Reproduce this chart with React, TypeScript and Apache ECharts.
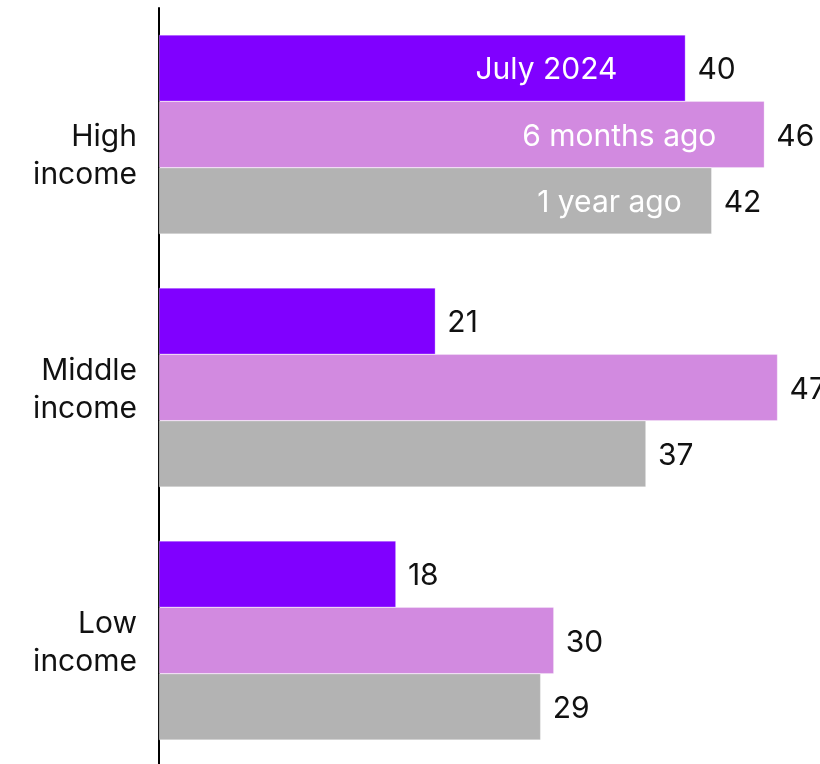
import React, { useEffect, useRef } from "react";
import * as echarts from "echarts";

const categories = ["High\nincome", "Middle\nincome", "Low\nincome"];
const seriesNames = ["July 2024", "6 months ago", "1 year ago"];
const july2024 = [40, 21, 18];
const sixMonthsAgo = [46, 47, 30];
const oneYearAgo = [42, 37, 29];
const colors = ["#8000ff", "#d28ae0", "#b3b3b3"];
const nameLabelDistance = [68, 48, 30];

const FONT = "Inter, 'Noto Sans', sans-serif";
const FS = 30;

export default function App() {
  const ref = useRef<HTMLDivElement>(null);
  useEffect(() => {
    if (!ref.current) return;
    const chart = echarts.init(ref.current, undefined, { renderer: "svg" });
    const values = [july2024, sixMonthsAgo, oneYearAgo];
    chart.setOption({
      animation: false,
      textStyle: { fontFamily: FONT },
      grid: { left: 159, top: 8, width: 658, height: 759, containLabel: false },
      xAxis: { type: "value", min: 0, max: 50, show: false },
      yAxis: {
        type: "category",
        inverse: true,
        data: categories,
        axisLine: { show: true, lineStyle: { color: "#000", width: 2 } },
        axisTick: { show: false },
        axisLabel: {
          fontSize: FS,
          lineHeight: 38,
          color: "#111",
          margin: 22,
          fontFamily: FONT,
          formatter: (v: string, i: number) => (i === 0 ? "\n" + v : v),
        },
      },
      series: seriesNames.map((name, si) => ({
        type: "bar",
        name,
        data: values[si],
        barGap: "0%",
        barWidth: 66.4,
        itemStyle: { color: colors[si], borderColor: "rgba(255,255,255,0.6)", borderWidth: 0.5 },
        label: {
          show: true,
          position: "right",
          distance: 12,
          fontSize: FS,
          color: "#111",
          fontFamily: FONT,
        },
        markPoint: {
          symbol: "circle",
          symbolSize: 0,
          itemStyle: { color: "transparent" },
          data: [{ coord: [values[si][0], categories[0]] }],
          label: {
            show: true,
            position: "left",
            distance: nameLabelDistance[si],
            formatter: name,
            color: "#fff",
            fontSize: FS,
            fontFamily: FONT,
          },
        },
      })),
    });
    return () => chart.dispose();
  }, []);
  return (
    <div
      ref={ref}
      style={{ position: "fixed", left: 0, top: 0, width: 820, height: 770 }}
    />
  );
}
